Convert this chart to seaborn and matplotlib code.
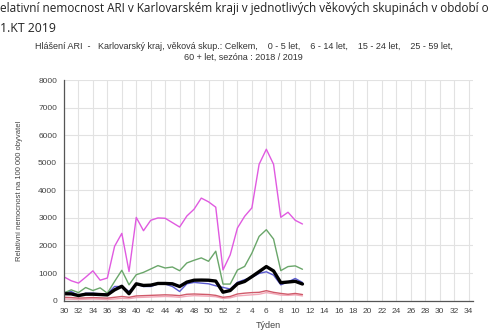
import matplotlib
matplotlib.use("Agg")
import matplotlib.pyplot as plt
import seaborn as sns
import pandas as pd

# Season 2018/2019: calendar weeks 30..52, then 1..34
season_weeks = list(range(30, 53)) + list(range(1, 35))
reported_weeks = list(range(30, 53)) + list(range(1, 12))

celkem = [250, 244, 183, 232, 232, 220, 207, 390, 520, 250, 610, 550, 561, 622, 622, 610,
          512, 671, 740, 745, 740, 708, 305, 366, 610, 695, 870, 1051, 1235, 1076, 650, 674, 700, 602]
let_0_5 = [860, 720, 634, 850, 1080, 740, 820, 1970, 2440, 1055, 3020, 2536, 2914, 3000, 2988, 2830,
           2670, 3070, 3317, 3720, 3585, 3390, 1113, 1660, 2635, 3060, 3365, 4946, 5493, 4946, 3023, 3206, 2914, 2780]
let_6_14 = [280, 390, 290, 475, 366, 463, 268, 695, 1100, 573, 940, 1025, 1147, 1270, 1183, 1220,
            1085, 1366, 1464, 1550, 1427, 1793, 600, 600, 1110, 1240, 1722, 2330, 2573, 2233, 1088, 1235, 1260, 1137]
let_15_24 = [290, 330, 183, 268, 268, 244, 244, 512, 512, 330, 600, 512, 512, 600, 600, 512,
             330, 610, 660, 634, 610, 537, 480, 420, 665, 760, 840, 986, 1046, 925, 572, 680, 803, 658]
let_25_59 = [120, 110, 90, 100, 110, 100, 90, 120, 150, 120, 170, 180, 190, 200, 210, 200,
             180, 230, 240, 230, 220, 190, 120, 150, 240, 270, 290, 300, 360, 300, 260, 230, 260, 220]
let_60 = [60, 50, 40, 50, 60, 50, 40, 60, 80, 70, 110, 120, 130, 140, 150, 140,
          120, 160, 180, 170, 160, 140, 80, 100, 170, 190, 210, 230, 290, 250, 200, 190, 210, 170]

series = {
    "0 - 5 let": let_0_5,
    "6 - 14 let": let_6_14,
    "15 - 24 let": let_15_24,
    "25 - 59 let": let_25_59,
    "60 + let": let_60,
    "Celkem": celkem,
}
colors = {
    "0 - 5 let": "#e05ae0",
    "6 - 14 let": "#6aa66a",
    "15 - 24 let": "#5a5ad0",
    "25 - 59 let": "#d05a6a",
    "60 + let": "#f2a8b8",
    "Celkem": "#000000",
}
widths = {k: 1.0 for k in series}
widths["Celkem"] = 2.4

rows = []
for name, vals in series.items():
    for i, v in enumerate(vals):
        rows.append({"pos": i, "week": reported_weeks[i], "skupina": name, "value": v})
df = pd.DataFrame(rows)

sns.set_style("white")
plt.rcParams["font.family"] = ["Liberation Sans", "DejaVu Sans"]

fig = plt.figure(figsize=(5.0, 3.34), dpi=100)
ax = fig.add_axes([0.128, 0.100, 0.818, 0.660])

for name in ["60 + let", "25 - 59 let", "15 - 24 let", "6 - 14 let", "0 - 5 let", "Celkem"]:
    sub = df[df["skupina"] == name]
    sns.lineplot(data=sub, x="pos", y="value", ax=ax, color=colors[name],
                 linewidth=widths[name], legend=False)

ax.set_xlim(0, len(season_weeks) - 1 + 0.6)
ax.set_ylim(0, 8000)
ax.set_yticks(range(0, 8001, 1000))
ax.set_xticks(range(0, len(season_weeks), 2))
ax.set_xticklabels([str(season_weeks[i]) for i in range(0, len(season_weeks), 2)])
ax.set_xticks(range(len(season_weeks)), minor=True)
ax.grid(True, axis="both", which="major", color="#e2e2e2", linewidth=0.8)
ax.set_axisbelow(True)
for s in ["top", "right"]:
    ax.spines[s].set_visible(False)
for s in ["left", "bottom"]:
    ax.spines[s].set_color("#555555")
    ax.spines[s].set_linewidth(0.9)
ax.tick_params(axis="both", which="both", direction="out", length=3, width=0.7,
               color="#555555", labelsize=6, labelcolor="#444444", pad=2)
ax.set_xlabel("Týden", fontsize=6.5, color="#444444", labelpad=5)
ax.set_ylabel("Relativní nemocnost na 100 000 obyvatel", fontsize=5.5, color="#444444", labelpad=11)

# Page heading (the visible part of the report header)
fig.text(0.0, 0.995,
         "elativní nemocnost ARI v Karlovarském kraji v jednotlivých věkových skupinách v období o",
         fontsize=8.45, va="top", ha="left", color="#222222", family=["Open Sans", "DejaVu Sans"])
fig.text(0.0, 0.935, "1.KT 2019", fontsize=8.8, va="top", ha="left", color="#222222",
         family=["Open Sans", "DejaVu Sans"])
fig.text(0.487, 0.874,
         "Hlášení ARI  -   Karlovarský kraj, věková skup.: Celkem,    0 - 5 let,    6 - 14 let,    15 - 24 let,    25 - 59 let,",
         fontsize=6.5, va="top", ha="center", color="#333333")
fig.text(0.487, 0.843, "60 + let, sezóna : 2018 / 2019",
         fontsize=6.5, va="top", ha="center", color="#333333")

fig.savefig("out.png", dpi=100)
